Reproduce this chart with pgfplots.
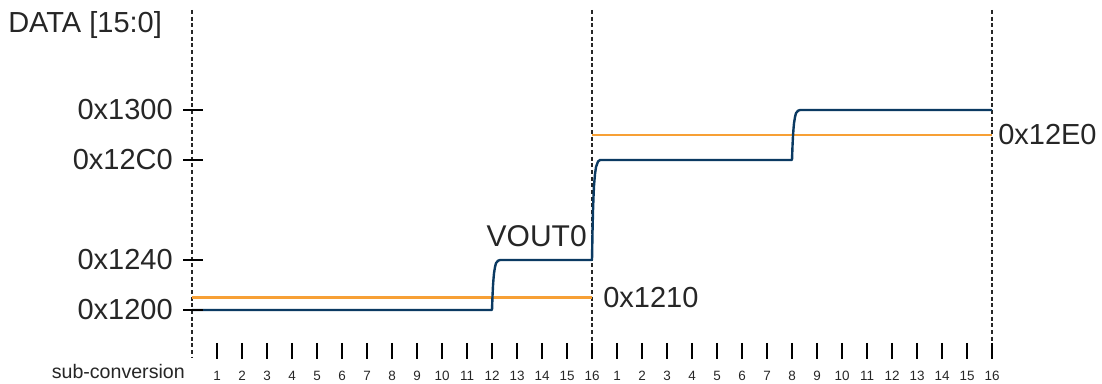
\documentclass[border=0pt]{standalone}
\usepackage{pgfplots}
\pgfplotsset{compat=1.18}
\usepackage{fontspec}
\setmainfont{Liberation Sans}
\definecolor{navy}{HTML}{0B3A62}
\definecolor{orng}{HTML}{F7A035}
\definecolor{txt}{HTML}{262626}
\begin{document}
\begin{tikzpicture}
\begin{axis}[
  scale only axis,
  width=826.5pt, height=287.25pt,
  xmin=-7.68, xmax=36.4,
  ymin=4514.56, ymax=5004.8,
  axis lines=none,
  clip=false,
]
\path (rel axis cs:0,0) rectangle (rel axis cs:1,1);
% dashed verticals
\foreach \xx in {0,16,32} {
  \edef\tmp{\noexpand\draw[densely dashed, black!85, line width=0.8pt, dash pattern=on 3pt off 2pt] (axis cs:\xx,4992) -- (axis cs:\xx,4546.5);}
  \tmp
}
% orange reference lines
\addplot[orng, line width=1.6pt] coordinates {(0,4624) (16,4624)};
\addplot[orng, line width=1.6pt] coordinates {(16,4832) (32,4832)};
% blue VOUT0
\addplot[navy, line width=1.8pt, line join=round] coordinates {
 (0,4608) (12.00,4608) (12.02,4626) (12.04,4639) (12.06,4648) (12.08,4655) (12.12,4663) (12.16,4668) (12.24,4671) (12.32,4672)
 (16.00,4672) (16.02,4708) (16.04,4735) (16.06,4753) (16.08,4767) (16.12,4782) (16.16,4791) (16.24,4798) (16.32,4800)
 (24.00,4800) (24.02,4818) (24.04,4831) (24.06,4840) (24.08,4847) (24.12,4855) (24.16,4860) (24.24,4863) (24.32,4864)
 (32,4864)};
% y ticks
\foreach \yy/\lab in {4608/0x1200,4672/0x1240,4800/0x12C0,4864/0x1300} {
  \edef\tmp{\noexpand\draw[black, line width=1.5pt] (axis cs:-0.36,\yy) -- (axis cs:0.44,\yy);
    \noexpand\node[anchor=east, inner sep=0pt, text=txt, font=\noexpand\fontsize{21.75}{26}\noexpand\selectfont] at (axis cs:-0.76,\yy) {\lab};}
  \tmp
}
% x ticks
\foreach \k in {1,...,32} {
  \pgfmathtruncatemacro{\lab}{mod(\k-1,16)+1}
  \edef\tmp{\noexpand\draw[black, line width=2.2pt] (axis cs:\k,4565.8) -- (axis cs:\k,4545.3);
    \noexpand\node[anchor=base, inner sep=0pt, text=txt, font=\noexpand\fontsize{10.1}{12}\noexpand\selectfont] at (axis cs:\k,4518.4) {\lab};}
  \tmp
}
\node[anchor=base east, inner sep=0pt, text=txt, font=\fontsize{14.7}{17}\selectfont] at (axis cs:-0.28,4519.7) {sub-conversion};
\node[anchor=base west, inner sep=0pt, text=txt, font=\fontsize{21.75}{26}\selectfont] at (axis cs:-7.36,4962.6) {DATA [15:0]};
\node[anchor=east, inner sep=0pt, text=txt, font=\fontsize{22.5}{26}\selectfont] at (axis cs:15.8,4702.7) {VOUT0};
\node[anchor=west, inner sep=0pt, text=txt, font=\fontsize{21.75}{26}\selectfont] at (axis cs:16.44,4624) {0x1210};
\node[anchor=west, inner sep=0pt, text=txt, font=\fontsize{21.75}{26}\selectfont] at (axis cs:32.24,4832) {0x12E0};
\end{axis}
\end{tikzpicture}
\end{document}
